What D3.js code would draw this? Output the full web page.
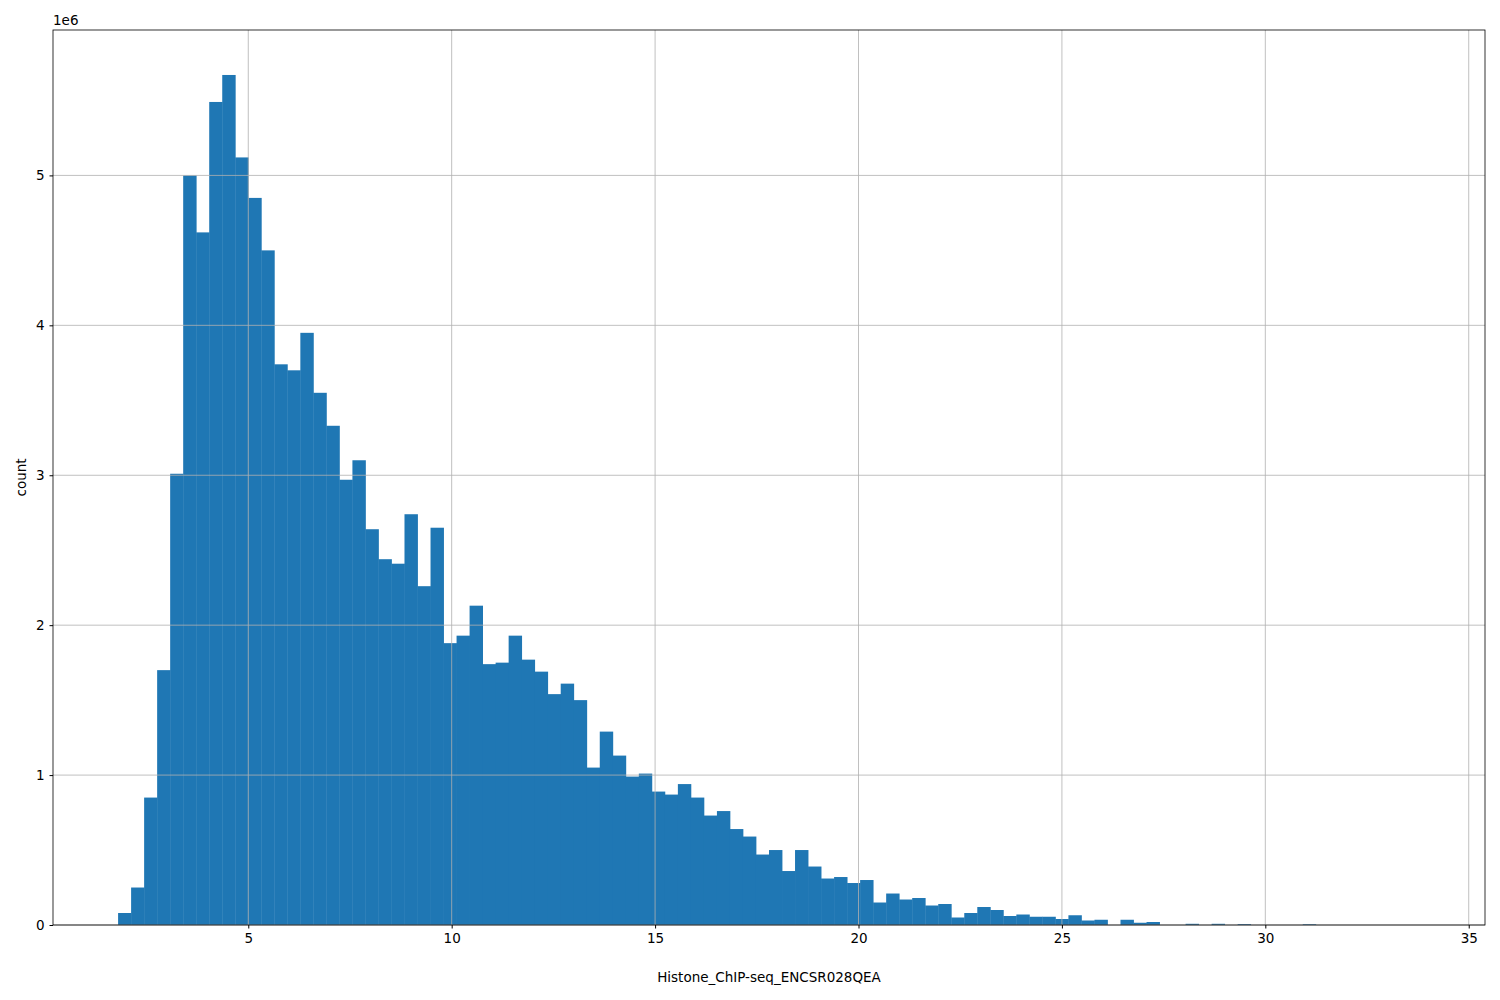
<!DOCTYPE html>
<html>
<head>
<meta charset="utf-8">
<script src="https://cdn.jsdelivr.net/npm/d3@7"></script>
<style>
  body { margin: 0; background: #fff; }
  text { font-family: "DejaVu Sans", sans-serif; }
</style>
</head>
<body>
<script>
// histogram bins: 100 bins from binStart with fixed width, counts in units of 1e6
var binStart = 1.8;
var binWidth = 0.32;
var counts = [
  0.08, 0.25, 0.85, 1.70, 3.01, 5.00, 4.62, 5.49, 5.67, 5.12,
  4.85, 4.50, 3.74, 3.70, 3.95, 3.55, 3.33, 2.97, 3.10, 2.64,
  2.44, 2.41, 2.74, 2.26, 2.65, 1.88, 1.93, 2.13, 1.74, 1.75,
  1.93, 1.77, 1.69, 1.54, 1.61, 1.50, 1.05, 1.29, 1.13, 0.99,
  1.01, 0.89, 0.87, 0.94, 0.85, 0.73, 0.76, 0.64, 0.59, 0.47,
  0.50, 0.36, 0.50, 0.39, 0.31, 0.32, 0.28, 0.30, 0.15, 0.21,
  0.17, 0.18, 0.13, 0.14, 0.05, 0.08, 0.12, 0.10, 0.06, 0.07,
  0.055, 0.055, 0.04, 0.065, 0.03, 0.035, 0, 0.035, 0.015, 0.02,
  0, 0, 0.008, 0, 0.008, 0, 0.006, 0, 0, 0,
  0, 0.005, 0, 0, 0, 0, 0, 0, 0, 0
];
var xTicks = [5, 10, 15, 20, 25, 30, 35];
var yTicks = [0, 1, 2, 3, 4, 5];

var W = 1500, H = 1000;
var m = {left: 53, right: 15, top: 30, bottom: 75};

var svg = d3.select("body").append("svg").attr("width", W).attr("height", H);

var x = d3.scaleLinear().domain([0.2, 35.4]).range([m.left, W - m.right]);
var y = d3.scaleLinear().domain([0, 5.97]).range([H - m.bottom, m.top]);

// bars first, grid drawn on top like matplotlib hist with grid
svg.selectAll("rect.bar").data(counts).enter().append("rect")
  .attr("class", "bar")
  .attr("x", function(d, i){ return x(binStart + i * binWidth); })
  .attr("width", x(binWidth) - x(0) + 0.4)
  .attr("y", function(d){ return y(d); })
  .attr("height", function(d){ return y(0) - y(d); })
  .attr("fill", "#1f77b4");

// grid
svg.selectAll("line.gx").data(xTicks).enter().append("line")
  .attr("x1", d => x(d)).attr("x2", d => x(d))
  .attr("y1", m.top).attr("y2", H - m.bottom)
  .attr("stroke", "#b0b0b0").attr("stroke-width", 0.8);
svg.selectAll("line.gy").data(yTicks).enter().append("line")
  .attr("x1", m.left).attr("x2", W - m.right)
  .attr("y1", d => y(d)).attr("y2", d => y(d))
  .attr("stroke", "#b0b0b0").attr("stroke-width", 0.8);

// axes
var xAxis = svg.append("g").attr("transform", "translate(0," + (H - m.bottom) + ")")
  .call(d3.axisBottom(x).tickValues(xTicks).tickSize(3.5).tickPadding(5));
var yAxis = svg.append("g").attr("transform", "translate(" + m.left + ",0)")
  .call(d3.axisLeft(y).tickValues(yTicks).tickFormat(d3.format("d")).tickSize(3.5).tickPadding(5));
[xAxis, yAxis].forEach(function(a){
  a.select(".domain").remove();
  a.selectAll("text").attr("font-size", 13.5).attr("fill", "#000").style("font-family", "DejaVu Sans");
  a.selectAll("line").attr("stroke", "#000");
});

// frame
svg.append("rect")
  .attr("x", m.left).attr("y", m.top)
  .attr("width", W - m.left - m.right).attr("height", H - m.top - m.bottom)
  .attr("fill", "none").attr("stroke", "#000").attr("stroke-width", 0.8);

// labels
svg.append("text").attr("x", m.left).attr("y", m.top - 5)
  .attr("font-size", 13.5).text("1e6");
svg.append("text").attr("x", (m.left + W - m.right) / 2).attr("y", 982)
  .attr("text-anchor", "middle").attr("font-size", 13.5)
  .text("Histone_ChIP-seq_ENCSR028QEA");
svg.append("text").attr("transform", "translate(26," + ((m.top + H - m.bottom) / 2) + ") rotate(-90)")
  .attr("text-anchor", "middle").attr("font-size", 13.5).text("count");
</script>
</body>
</html>
